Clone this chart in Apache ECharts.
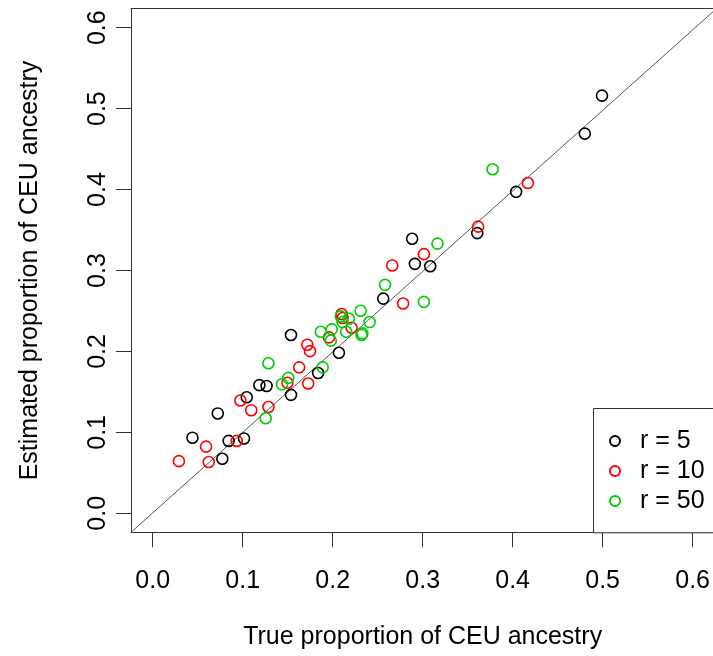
<!DOCTYPE html>
<html>
<head>
<meta charset="utf-8">
<script src="https://cdn.jsdelivr.net/npm/echarts@6/dist/echarts.min.js"></script>
<style>
html,body{margin:0;padding:0;background:#fff;}
#chart{width:713px;height:656px;}
</style>
</head>
<body>
<div id="chart"></div>
<script>
// ---- data (true proportion, estimated proportion) ----
const seriesNames = ['r = 5', 'r = 10', 'r = 50'];
const seriesColors = ['#000000', '#ff0000', '#00cd00'];

const r5 = [
  [0.044, 0.093], [0.072, 0.123], [0.077, 0.067], [0.084, 0.089], [0.101, 0.092],
  [0.104, 0.143], [0.118, 0.158], [0.126, 0.157], [0.153, 0.220], [0.153, 0.146],
  [0.183, 0.173], [0.206, 0.198], [0.255, 0.265], [0.287, 0.339], [0.290, 0.308],
  [0.307, 0.305], [0.359, 0.346], [0.402, 0.397], [0.478, 0.469], [0.497, 0.516]
];
const r10 = [
  [0.029, 0.064], [0.062, 0.063], [0.059, 0.082], [0.093, 0.089], [0.097, 0.139],
  [0.109, 0.127], [0.128, 0.131], [0.149, 0.161], [0.162, 0.180], [0.171, 0.208],
  [0.174, 0.200], [0.172, 0.160], [0.195, 0.217], [0.209, 0.246], [0.210, 0.241],
  [0.220, 0.229], [0.265, 0.306], [0.277, 0.259], [0.300, 0.320], [0.360, 0.354],
  [0.415, 0.408]
];
const r50 = [
  [0.128, 0.185], [0.125, 0.117], [0.143, 0.159], [0.150, 0.167], [0.188, 0.180],
  [0.186, 0.224], [0.198, 0.227], [0.197, 0.213], [0.210, 0.236], [0.217, 0.240],
  [0.214, 0.224], [0.230, 0.250], [0.240, 0.236], [0.231, 0.220], [0.232, 0.222],
  [0.257, 0.282], [0.300, 0.261], [0.315, 0.333], [0.376, 0.425], [0.208, 0.243]
];
const xTickLabels = ['0.0', '0.1', '0.2', '0.3', '0.4', '0.5', '0.6'];
const yTickLabels = ['0.0', '0.1', '0.2', '0.3', '0.4', '0.5', '0.6'];
const xTitle = 'True proportion of CEU ancestry';
const yTitle = 'Estimated proportion of CEU ancestry';

// visible plot-region limits (R's 4% extension of 0..0.6; right side cut by the page edge)
const xMin = -0.024, xMax = 0.6198;
const yMin = -0.024, yMax = 0.624;
const identityLine = [[yMin, yMin], [yMax, yMax]];

const FONT = '"Liberation Sans", Arial, Helvetica, sans-serif';
const chart = echarts.init(document.getElementById('chart'), null, {renderer: 'canvas'});

function scatter(name, data, color) {
  return {
    name: name, type: 'scatter', xAxisIndex: 0, yAxisIndex: 0,
    data: data, symbol: 'circle', symbolSize: 11,
    itemStyle: {color: 'rgba(0,0,0,0)', borderColor: color, borderWidth: 1.6, opacity: 1},
    emphasis: {disabled: true}, z: 5
  };
}
const boxLine = {show: true, onZero: false, lineStyle: {color: '#333', width: 1}};

chart.setOption({
  animation: false,
  backgroundColor: '#ffffff',
  grid: [
    {left: 131, top: 8.3, width: 582, height: 524, show: false, containLabel: false},
    {left: 152.7, top: 27.7, width: 542.4, height: 485.6, show: false, containLabel: false}
  ],
  xAxis: [
    {gridIndex: 0, type: 'value', min: xMin, max: xMax, position: 'bottom',
     axisLine: boxLine, axisTick: {show: false}, axisLabel: {show: false}, splitLine: {show: false}},
    {gridIndex: 1, type: 'value', min: 0, max: 0.6, interval: 0.1, position: 'bottom', offset: 19,
     axisLine: {show: true, onZero: false, lineStyle: {color: '#333', width: 1}},
     axisTick: {show: true, length: 15, lineStyle: {color: '#333', width: 1}},
     axisLabel: {show: true, margin: 36, fontSize: 25, fontFamily: FONT, color: '#000',
       formatter: (v) => xTickLabels[Math.round(v * 10)]},
     splitLine: {show: false},
     name: xTitle, nameLocation: 'middle', nameGap: 92,
     nameTextStyle: {fontSize: 25, fontFamily: FONT, color: '#000'}},
    {gridIndex: 0, type: 'value', min: xMin, max: xMax, position: 'top',
     axisLine: boxLine, axisTick: {show: false}, axisLabel: {show: false}, splitLine: {show: false}}
  ],
  yAxis: [
    {gridIndex: 0, type: 'value', min: yMin, max: yMax, position: 'left',
     axisLine: boxLine, axisTick: {show: false}, axisLabel: {show: false}, splitLine: {show: false}},
    {gridIndex: 1, type: 'value', min: 0, max: 0.6, interval: 0.1, position: 'left', offset: 21.7,
     axisLine: {show: true, onZero: false, lineStyle: {color: '#333', width: 1}},
     axisTick: {show: true, length: 15, lineStyle: {color: '#333', width: 1}},
     axisLabel: {show: true, margin: 20, fontSize: 25, fontFamily: FONT, color: '#000', rotate: 90,
       formatter: (v) => yTickLabels[Math.round(v * 10)]},
     splitLine: {show: false},
     name: yTitle, nameLocation: 'middle', nameGap: 88, nameRotate: 90,
     nameTextStyle: {fontSize: 25, fontFamily: FONT, color: '#000'}}
  ],
  legend: {
    orient: 'vertical', left: 609, top: 426, padding: 0, itemGap: 0, z: 60,
    itemWidth: 12, itemHeight: 10,
    data: seriesNames.map(n => ({name: n, icon: 'circle'})),
    textStyle: {fontSize: 25, fontFamily: FONT, color: '#000', lineHeight: 30, padding: [0, 0, 0, 14]},
    selectedMode: false
  },
  graphic: [
    {type: 'rect', left: 593, top: 408, shape: {width: 200, height: 124.3},
     style: {fill: '#fff', stroke: '#333', lineWidth: 1}, z: 50}
  ],
  series: [
    {type: 'line', xAxisIndex: 0, yAxisIndex: 0, data: identityLine, symbol: 'none',
     lineStyle: {color: '#555', width: 1}, silent: true, clip: true, z: 3},
    scatter(seriesNames[0], r5, seriesColors[0]),
    scatter(seriesNames[1], r10, seriesColors[1]),
    scatter(seriesNames[2], r50, seriesColors[2])
  ]
});
</script>
</body>
</html>
